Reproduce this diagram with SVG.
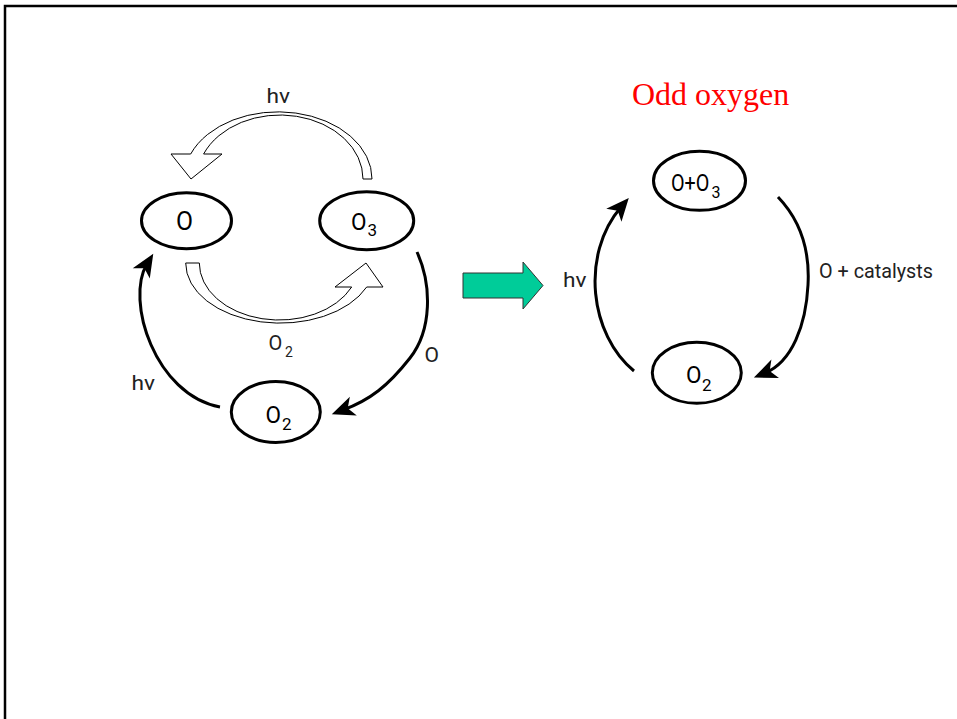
<svg xmlns="http://www.w3.org/2000/svg" width="957" height="719" viewBox="0 0 957 719">
<style>
.node ellipse{fill:#fff;stroke:#000;stroke-width:3}
.nl{font-family:Roboto,"Liberation Sans",sans-serif;font-size:24px;fill:#000}
.sub{font-family:Roboto,"Liberation Sans",sans-serif;font-size:17px;fill:#000}
.lb{font-family:Roboto,"Liberation Sans",sans-serif;font-size:21px;fill:#222}
.arc{fill:none;stroke:#000;stroke-width:3;marker-end:url(#ah)}
.hollow{fill:#fff;stroke:#000;stroke-width:1}
</style>
<defs>
<marker id="ah" markerUnits="userSpaceOnUse" markerWidth="40" markerHeight="40" refX="0" refY="0" orient="auto" overflow="visible">
<path d="M12,0 L-11,-10 L-5,0 L-11,10 Z" fill="#000"/>
</marker>
</defs>
<rect width="957" height="719" fill="#fff"/>
<path d="M5,719 L5,6 L957,6" fill="none" stroke="#000" stroke-width="2.5"/>
<text x="632" y="105" font-family="'Liberation Serif',serif" font-size="32" fill="#ff0000">Odd oxygen</text>
<g id="connectors">
<path class="hollow" d="M372,179 A94,67 0 0 0 190.7,154 L171,154 L191,179 L222,154 L203.6,154 A83,64 0 0 1 363,179 Z"/>
<path class="hollow" d="M185.7,263 A94.4,60 0 0 0 366.7,287 L383,287 L366,263 L335,287 L351.7,287 A79.9,57 0 0 1 199.3,263 Z"/>
<path class="arc" d="M417,252 C432,285 432,330 410,358 C388,386 370,400 343,410"/>
<path class="arc" d="M220,407 C155,395 125,300 147,264"/>
<path class="arc" d="M634,371 C590,335 580,255 621,207"/>
<path class="arc" d="M778,197 C800,220 810,250 808,285 C806,325 792,362 765,373"/>
<polygon points="463,273 523,273 523,262 543,285.5 523,309 523,298 463,298" fill="#00cc99" stroke="#333" stroke-width="1"/>
<text class="lb" x="266.5" y="103.3" textLength="23.5" lengthAdjust="spacingAndGlyphs">hν</text>
<text class="lb" x="268.5" y="350" style="font-size:20px">O</text>
<text class="lb" x="285" y="357" style="font-size:14px">2</text>
<text class="lb" x="424.5" y="361.7">O</text>
<text class="lb" x="131.5" y="390" textLength="23.5" lengthAdjust="spacingAndGlyphs">hν</text>
<text class="lb" x="563" y="287" textLength="23.5" lengthAdjust="spacingAndGlyphs">hν</text>
<text class="lb" x="819" y="278" textLength="114" lengthAdjust="spacingAndGlyphs">O + catalysts</text>
</g>
<g id="node-O" class="node">
<ellipse cx="186.5" cy="220.8" rx="45" ry="28"/>
<text class="nl" x="176" y="230" style="font-size:25px" textLength="17" lengthAdjust="spacingAndGlyphs">O</text>
</g>
<g id="node-O3" class="node">
<ellipse cx="366.7" cy="220.8" rx="47" ry="29"/>
<text class="nl" x="351" y="230" textLength="15.5" lengthAdjust="spacingAndGlyphs">O</text>
<text class="sub" x="367.5" y="236">3</text>
</g>
<g id="node-O2-left" class="node">
<ellipse cx="275.8" cy="412" rx="44.5" ry="30.5"/>
<text class="nl" x="265.5" y="423.3" textLength="15.5" lengthAdjust="spacingAndGlyphs">O</text>
<text class="sub" x="282" y="430">2</text>
</g>
<g id="node-OO3" class="node">
<ellipse cx="699.5" cy="180.8" rx="46" ry="29.5"/>
<text class="nl" transform="translate(671,190.7) scale(0.86,1)" style="font-size:23px">O+O</text>
<text class="sub" x="711.5" y="198.3" style="font-size:16px">3</text>
</g>
<g id="node-O2-right" class="node">
<ellipse cx="696.8" cy="372.8" rx="44.5" ry="30.5"/>
<text class="nl" x="686" y="383.3" textLength="15.5" lengthAdjust="spacingAndGlyphs">O</text>
<text class="sub" x="702" y="390.7">2</text>
</g>
</svg>
